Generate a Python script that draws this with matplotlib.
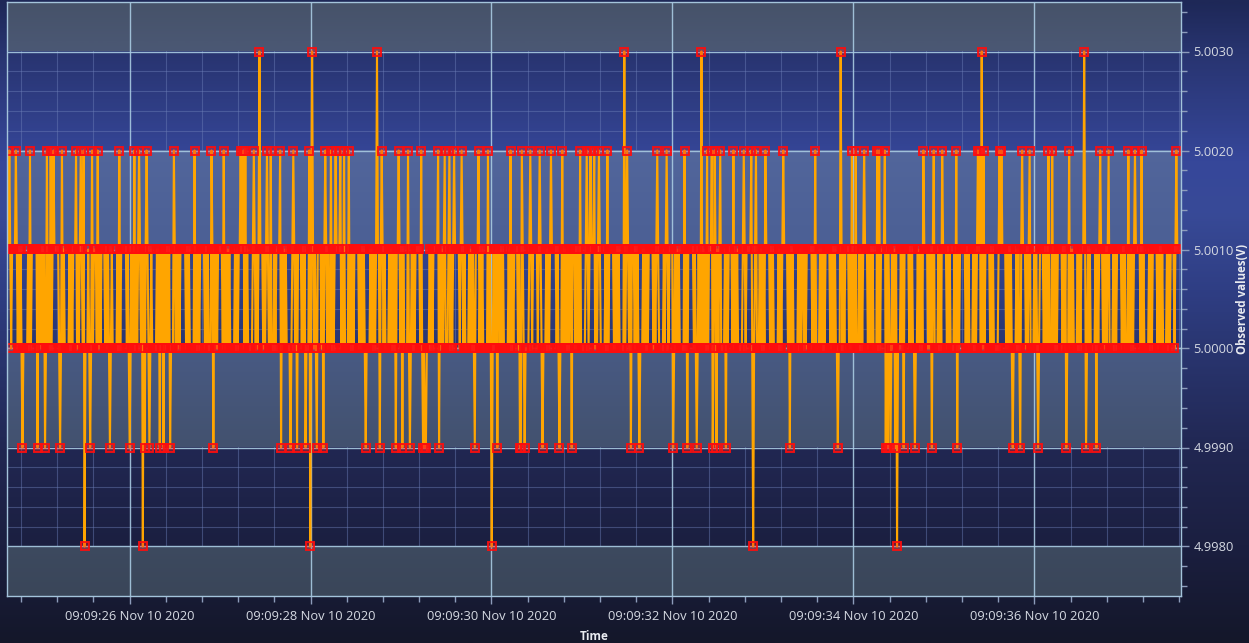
import numpy as np
import matplotlib
matplotlib.use("Agg")
import matplotlib.pyplot as plt
from matplotlib.ticker import MultipleLocator, FuncFormatter
from matplotlib.colors import LinearSegmentedColormap

plt.rcParams["font.family"] = ["Open Sans", "DejaVu Sans"]

# Acquisition window, seconds after 09:09:00 on Nov 10 2020
T_START = 24.66
T_END = 37.58

# Quantised reading per sample: '2' -> 5.000 V, '3' -> 5.001 V
BASE_CODES = (
    "3232333333232323222223232333333232323232222323232333332323232222232323333232323222222323232333"
    "2323233332323232322222323233333323232322223232323233333232322222323232333323232222232323233333"
    "3232322222323232333332323222232323233333232323232222232323333332323222223232323333323232322222"
    "2323333323232322223232323233332323222222323232333332323232322223232333332323222232323233333232"
    "3232322223232323333332323222232323232333323232222223232323333323232322223232333333232323222232"
    "2323233333232323222232323233333232322222323232323333323232222232323233332323232222223232333332"
    "3232222232323233333232322223232323333332323232222232323233332323232222232323333323232322222323"
    "2323333323232222232323233333232323222223232323333323232322222323233333323232322223232323333323"
    "3232322222323233332323232222232323333332323222232323233333232322222323232333323232322222323233"
    "2323333332323222232323233333232323222222323233332323232222232323333323232322223232333332323222"
    "3232322223232333332323222223232323333323232322222323233333232322223232323333332323222232323233"
    "2323233333232322222323233332323232222232323333332323222223232323333232323222223232333332323222"
    "3232322223232333333232322222323233332323232222232323333323232222232323233333232322222323233333"
    "2323232222323233332323"
)
LEVELS = {"0": 4.998, "1": 4.999, "2": 5.000, "3": 5.001, "4": 5.002, "5": 5.003}

# Excursion times (s after 09:09:00) for the less frequent readings
T_5002 = [24.67, 24.74, 24.90, 25.09, 25.13, 25.16, 25.25, 25.41, 25.46, 25.49,
          25.59, 25.65, 25.89, 26.05, 26.10, 26.19, 26.38, 26.49, 26.72, 26.90,
          27.04, 27.23, 27.26, 27.28, 27.37, 27.52, 27.56, 27.66, 27.81, 27.99,
          28.16, 28.23, 28.28, 28.33, 28.37, 28.42, 28.79, 28.97, 29.08, 29.22,
          29.41, 29.48, 29.53, 29.59, 29.67, 29.86, 29.96, 30.21, 30.34, 30.43,
          30.53, 30.66, 30.78, 30.98, 31.05, 31.09, 31.14, 31.19, 31.28, 31.50,
          31.83, 31.94, 32.13, 32.38, 32.43, 32.47, 32.53, 32.67, 32.79, 32.87,
          32.92, 33.03, 33.22, 33.58, 33.98, 34.03, 34.12, 34.26, 34.28, 34.35,
          34.77, 34.89, 34.98, 35.14, 35.38, 35.40, 35.44, 35.62, 35.64, 35.86,
          35.95, 36.16, 36.20, 36.38, 36.73, 36.82, 37.04, 37.11, 37.19, 37.57]
T_4999 = [24.82, 24.98, 25.07, 25.23, 25.56, 25.78, 26.00, 26.17, 26.22, 26.33,
          26.37, 26.45, 26.93, 27.67, 27.78, 27.85, 27.94, 28.07, 28.14, 28.61,
          28.77, 28.94, 29.02, 29.10, 29.24, 29.26, 29.28, 29.42, 29.82, 30.07,
          30.31, 30.33, 30.37, 30.56, 30.75, 30.89, 31.54, 31.63, 32.01, 32.16,
          32.27, 32.45, 32.49, 32.59, 33.30, 33.83, 34.36, 34.38, 34.41, 34.46,
          34.56, 34.68, 34.87, 35.15, 35.76, 35.84, 36.04, 36.35, 36.57, 36.69]
T_5003 = [27.44, 28.02, 28.73, 31.47, 32.32, 33.86, 35.42, 36.55]
T_4998 = [25.50, 26.15, 28.00, 30.00, 32.89, 34.48]

# ---- assemble the series -------------------------------------------------
n = len(BASE_CODES)
times = np.linspace(T_START, T_END, n)
values = np.array([LEVELS[c] for c in BASE_CODES])
dt = (T_END - T_START) / (n - 1)


def place(ts, level):
    idx = np.rint((np.asarray(ts) - T_START) / dt).astype(int)
    values[np.clip(idx, 0, n - 1)] = level


place(T_5002, 5.002)
place(T_4999, 4.999)
place(T_5003, 5.003)
place(T_4998, 4.998)

# ---- figure and backdrop -------------------------------------------------
W, H = 1249, 643
fig = plt.figure(figsize=(W / 100, H / 100), dpi=100)
fig.patch.set_facecolor("#1a1e38")

bg = fig.add_axes([0, 0, 1, 1], zorder=-10)
bg.axis("off")
bg_cmap = LinearSegmentedColormap.from_list("bg", [
    (0.00, "#1e2857"), (0.08, "#283470"), (0.25, "#36479a"), (0.33, "#384a97"),
    (0.45, "#2f3e84"), (0.55, "#29356f"), (0.70, "#212752"), (0.85, "#1b1f40"),
    (1.00, "#14172a")])
bg.imshow(np.linspace(0, 1, 600)[:, None], cmap=bg_cmap, aspect="auto",
          extent=[0, 1, 0, 1], origin="upper", interpolation="bilinear")
bg.set_xlim(0, 1)
bg.set_ylim(0, 1)

L, R, T, B = 7, 1181, 2, 596
ax = fig.add_axes([L / W, 1 - B / H, (R - L) / W, (B - T) / H])
ax.patch.set_alpha(0)

X_LIM = (24.645, 37.621)
Y_LIM = (4.9975, 5.0035)
ax.set_xlim(*X_LIM)
ax.set_ylim(*Y_LIM)

ax.xaxis.set_major_locator(MultipleLocator(2))
ax.xaxis.set_minor_locator(MultipleLocator(0.4))
ax.yaxis.set_major_locator(MultipleLocator(0.001))
ax.yaxis.set_minor_locator(MultipleLocator(0.0002))
ax.xaxis.set_major_formatter(FuncFormatter(lambda v, p: f"09:09:{v:02.0f} Nov 10 2020"))
ax.yaxis.set_major_formatter(FuncFormatter(lambda v, p: f"{v:.4f}"))

# minor grid sits under the bands
ax.set_axisbelow(True)
ax.grid(False, which="major")
ax.grid(True, which="minor", color="#6d7fb8", alpha=0.45, lw=0.8)

yt = [v for v in ax.yaxis.get_majorticklocs() if Y_LIM[0] <= v <= Y_LIM[1]]
xt = [v for v in ax.xaxis.get_majorticklocs() if X_LIM[0] <= v <= X_LIM[1]]

# alternating horizontal bands between major y ticks, filled from the top
band_cmap = LinearSegmentedColormap.from_list("band", [
    (0.00, "#3a4659"), (0.09, "#3d4a60"), (0.26, "#435270"), (0.43, "#495b86"),
    (0.60, "#4c6095"), (0.76, "#52669c"), (0.92, "#4b5874"), (1.00, "#465269")])
edges = [Y_LIM[1]] + sorted(yt, reverse=True) + [Y_LIM[0]]
span = Y_LIM[1] - Y_LIM[0]
for i in range(0, len(edges) - 1, 2):
    hi, lo = edges[i], edges[i + 1]
    col = np.linspace((hi - Y_LIM[0]) / span, (lo - Y_LIM[0]) / span, 64)[:, None]
    ax.imshow(col, cmap=band_cmap, vmin=0, vmax=1, extent=[X_LIM[0], X_LIM[1], lo, hi],
              aspect="auto", origin="upper", interpolation="bilinear", zorder=1)

for v in yt:
    ax.axhline(v, color="#a9cbe2", lw=1.0, alpha=0.9, zorder=2)
for v in xt:
    ax.axvline(v, color="#a9cbe2", lw=1.0, alpha=0.9, zorder=2)

ax.set_xlim(*X_LIM)
ax.set_ylim(*Y_LIM)
ax.set_aspect("auto")

# the measurement trace
ax.plot(times, values, color="#FFA500", lw=1.5, zorder=4,
        marker="s", ms=6.4, mfc=(1, 0.1, 0.1, 0.35), mec=(1, 0.05, 0.05, 0.9), mew=1.4)

for s in ax.spines.values():
    s.set_color("#a4c4db")
    s.set_linewidth(1.0)
    s.set_zorder(6)

ax.yaxis.tick_right()
label_col = "#d5d9e2"
tick_col = "#8d9cbb"
ax.tick_params(axis="both", which="major", direction="out", length=6, width=1,
               color=tick_col, labelcolor=label_col, labelsize=9.3)
ax.tick_params(axis="both", which="minor", direction="out", length=4, width=1, color=tick_col)
ax.tick_params(axis="x", which="major", pad=4)
ax.tick_params(axis="y", which="major", pad=3)

fig.text((L + R) / 2 / W, 1 - 636 / H, "Time", ha="center", va="center",
         fontsize=8.5, fontweight="bold", color="#e8eaf0")
fig.text(1243 / W, 1 - (T + B) / 2 / H, "Observed values(V)", ha="center", va="center",
         rotation=90, fontsize=8.3, fontweight="bold", color="#e8eaf0")

fig.savefig("out.png", dpi=100, facecolor=fig.get_facecolor())
